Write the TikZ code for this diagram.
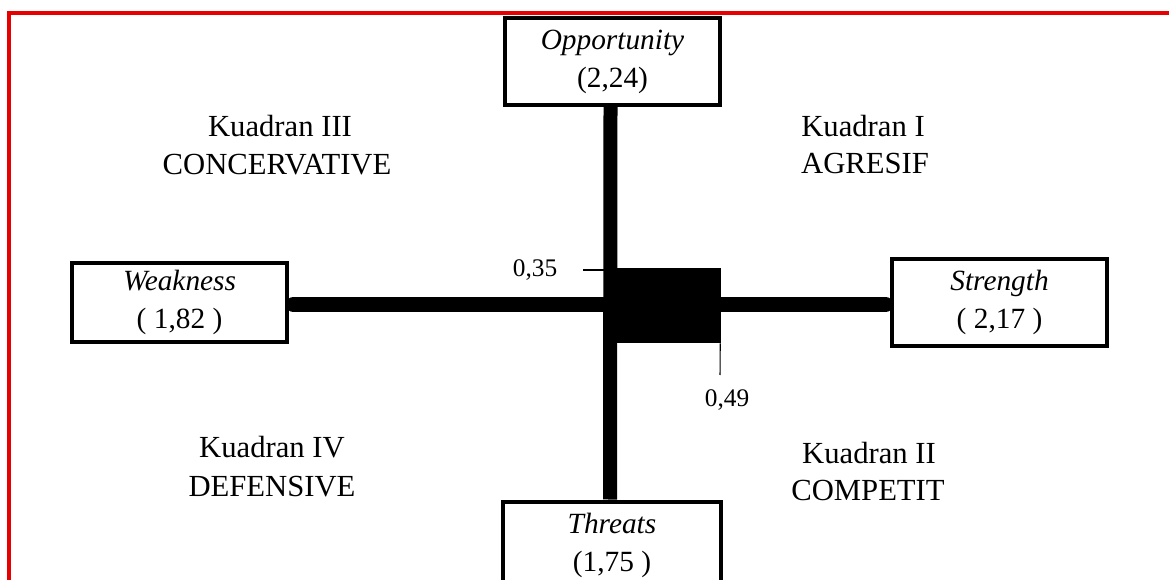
\documentclass[tikz,border=0pt]{standalone}
\usepackage{fontspec}
\setmainfont{Liberation Serif}
\definecolor{frame}{RGB}{230,0,0}
\tikzset{
  boxnode/.style={draw=black, line width=3pt, fill=white, rectangle, align=center,
    minimum width=161.25pt, inner sep=0pt,
    font=\fontsize{22}{28.5}\selectfont},
  quadlabel/.style={anchor=base, inner sep=0pt, font=\fontsize{23}{28}\selectfont},
  ticklabel/.style={inner sep=0pt, font=\fontsize{19}{22}\selectfont},
  thinline/.style={line width=0.8pt},
}
\begin{document}
\begin{tikzpicture}[x=0.75pt,y=-0.75pt]
\useasboundingbox (0,0) rectangle (1169,580);
\clip (0,0) rectangle (1169,580);
% red frame
\coordinate (fa) at (9,580);
\coordinate (fb) at (9,13);
\coordinate (fc) at (1169,13);
\draw[frame, line width=2.6pt] (fa) -- (fb) -- (fc);

% boxes
\node[boxnode, minimum height=65.25pt] (O) at (612.5,61.5) {\textit{Opportunity}\\(2,24)};
\node[boxnode, minimum height=59.25pt] (W) at (179.5,302.5) {\textit{Weakness}\\( 1,82 )};
\node[boxnode, minimum height=65.25pt] (S) at (999.5,302.5) {\textit{Strength}\\( 2,17 )};
\node[boxnode, minimum height=65.25pt, minimum width=163.5pt] (T) at (612,545) {\textit{Threats}\\(1,75 )};

% axes
\draw[line width=10.5pt] ([xshift=-1.5pt]O.south) -- ([xshift=-1.5pt]T.north);
\draw[line width=11.25pt, line cap=round] ([xshift=3.2pt,yshift=-1.5pt]W.east) -- ([xshift=-3.2pt,yshift=-1.5pt]S.west);

% centre square
\node[fill=black, draw=none, minimum width=79.5pt, minimum height=56.25pt, inner sep=0pt] (C) at (668,305.5) {};

% ticks
\coordinate (t1a) at (583,270);
\coordinate (t1b) at (604,270);
\draw[thinline] (t1a) -- (t1b);
\node[ticklabel] (L1) at (535,270) {0,35};
\coordinate (t2b) at (720,375);
\draw[thinline] ([xshift=-0.75pt]C.south east) -- (t2b);
\node[ticklabel] (L2) at (727,400) {0,49};

% quadrant labels
\node[quadlabel] (K3a) at (280,137) {Kuadran III};
\node[quadlabel] (K3b) at (277,175) {CONCERVATIVE};
\node[quadlabel] (K1a) at (863,137) {Kuadran I};
\node[quadlabel] (K1b) at (865,174) {AGRESIF};
\node[quadlabel] (K4a) at (272,457) {Kuadran IV};
\node[quadlabel] (K4b) at (272,496) {DEFENSIVE};
\node[quadlabel] (K2a) at (869,463) {Kuadran II};
\node[quadlabel] (K2b) at (868,500) {COMPETIT};
\end{tikzpicture}
\end{document}
